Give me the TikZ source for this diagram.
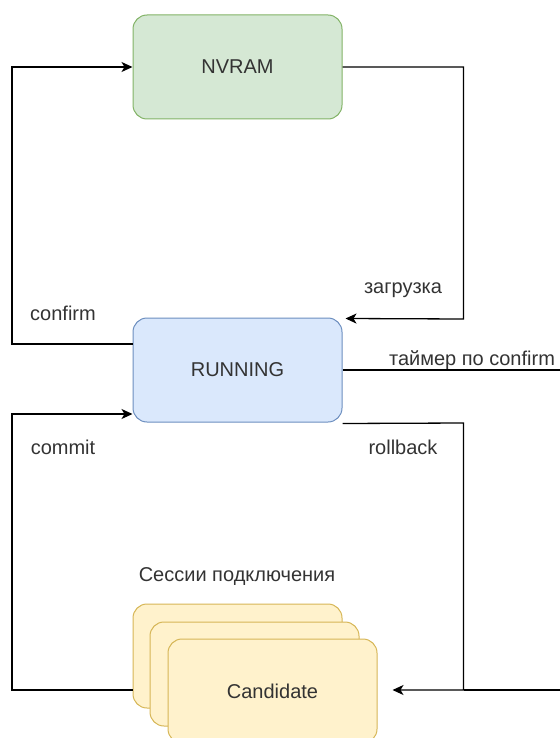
\documentclass[tikz,border=0pt]{standalone}
\usepackage{fontspec}
\setmainfont{Liberation Sans}
\usetikzlibrary{arrows.meta,calc}
\definecolor{gfill}{HTML}{D5E8D4}
\definecolor{gline}{HTML}{82B366}
\definecolor{bfill}{HTML}{DAE8FC}
\definecolor{bline}{HTML}{6C8EBF}
\definecolor{yfill}{HTML}{FFF2CC}
\definecolor{yline}{HTML}{D6B656}
\definecolor{txt}{HTML}{333333}
\begin{document}
\begin{tikzpicture}[x=1pt,y=-1pt,
  every node/.style={font=\fontsize{20}{24}\selectfont, text=txt},
  state/.style={draw, line width=1pt, rounded corners=14pt, minimum width=209pt, minimum height=104pt, inner sep=0pt},
  conn/.style={draw=black, line width=1.3pt},
  arr/.style={conn, -{Stealth[length=11pt,width=10pt,inset=3pt]}},
  lbl/.style={inner sep=0pt}]
\useasboundingbox (0,0) rectangle (559,738);
\node[state, fill=gfill, draw=gline] (nvram) at (237.5,67) {NVRAM};
\node[state, fill=bfill, draw=bline] (running) at (237.5,370) {RUNNING};
\node[state, fill=yfill, draw=yline] (cand1) at (237.5,656) {};
\node[state, fill=yfill, draw=yline] (cand2) at (254.5,674) {};
\node[state, fill=yfill, draw=yline] (cand3) at (272.5,691) {Candidate};
\node[lbl] (lsess) at (237,577) {Сессии подключения};
\node[lbl] (lload) at (403,290) {загрузка};
\node[lbl] (lconf) at (63,313) {confirm};
\node[lbl] (lcomm) at (63,447) {commit};
\node[lbl] (lroll) at (403,447) {rollback};
\node[lbl] (ltimer) at (472,360) {таймер по confirm};
\coordinate (lx1) at (12,344);
\coordinate (lx2) at (12,67);
\coordinate (rx1) at (463.5,67);
\coordinate (rx2) at (463.5,319);
\coordinate (lc1) at (12,690);
\coordinate (lc2) at (12,414);
\coordinate (rb1) at (463.5,423);
\coordinate (rb2) at (463.5,690);
\coordinate (edgeA) at (565,370);
\coordinate (edgeB) at (565,690);
% confirm
\draw[arr] (running.west |- lx1) -- (lx1) -- (lx2) -- (nvram.west);
% загрузка
\draw[arr] (nvram.east) -- (rx1) -- (rx2) -- ($(running.north east)+(3,1)$);
% таймер по confirm
\draw[conn] (running.east) -- (edgeA);
% commit
\draw[arr] (cand1.west |- lc1) -- (lc1) -- (lc2) -- (running.west |- lc2);
% rollback
\draw[arr, shorten >=15pt] ($(running.south east)+(0,1)$) -- (rb1) -- (rb2) -- (cand3.east |- rb2);
\draw[conn] (edgeB) -- (rb2);
\end{tikzpicture}
\end{document}
